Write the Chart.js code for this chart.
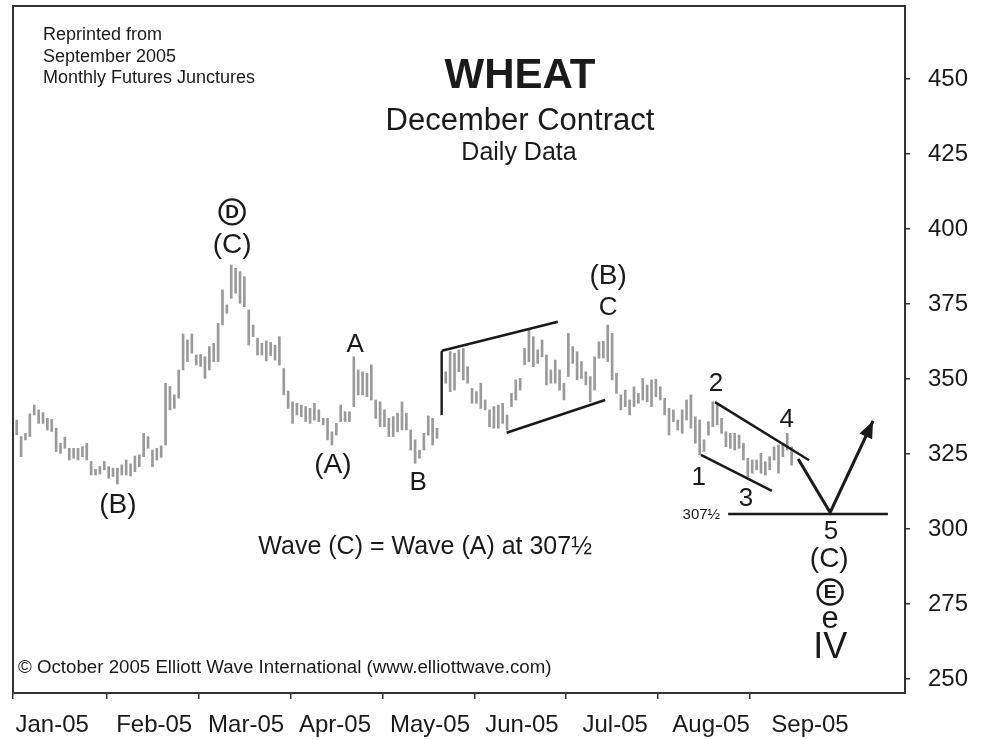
<!DOCTYPE html>
<html>
<head>
<meta charset="utf-8">
<title>Wheat - December Contract</title>
<script src="https://cdn.jsdelivr.net/npm/chart.js@4.4.1/dist/chart.umd.min.js"></script>
<style>
  html, body { margin: 0; padding: 0; background: #fff; }
  #wrap { width: 987px; height: 740px; }
</style>
</head>
<body>
<div id="wrap"><canvas id="chart" width="987" height="740"></canvas></div>
<script>
// ===== Data (daily bars, index = trading day from 3 Jan 2005) =====
const months      = ['Jan-05', 'Feb-05', 'Mar-05', 'Apr-05', 'May-05', 'Jun-05', 'Jul-05', 'Aug-05', 'Sep-05'];
const monthStarts = [-0.85, 20.6, 41.6, 62.7, 83.7, 104.7, 125.5, 146.5, 167.5];
const monthLabelAt = [8.1, 31.4, 52.4, 72.7, 94.4, 115.4, 136.7, 158.6, 181.2];
const priceTicks  = [250, 275, 300, 325, 350, 375, 400, 425, 450];

const highs = [
  336.3, 330.8, 331.9, 338.4, 341.3, 339.7, 338.8, 336.9, 336.6, 333.6,
  328.6, 330.6, 326.9, 326.9, 326.9, 327.4, 328.6, 322.5, 319.9, 320.8,
  322.5, 320.8, 320.3, 320.3, 321.4, 323.0, 321.7, 324.3, 324.7, 331.9,
  330.8, 326.3, 326.9, 327.7, 348.6, 347.5, 344.7, 353.0, 365.0, 363.0,
  365.0, 358.0, 358.2, 357.4, 360.8, 361.9, 368.6, 379.7, 374.7, 388.0,
  386.9, 385.8, 384.1, 373.0, 368.0, 363.6, 361.9, 362.7, 362.2, 361.3,
  364.1, 353.5, 346.0, 342.4, 341.9, 341.3, 340.8, 340.2, 341.9, 339.7,
  336.9, 336.9, 332.4, 335.2, 341.3, 339.1, 339.1, 357.4, 353.0, 352.4,
  351.9, 354.7, 343.0, 342.4, 339.7, 336.9, 337.5, 338.6, 342.4, 338.6,
  333.0, 329.7, 326.3, 331.9, 337.7, 336.9, 333.6, 359.1, 352.4, 359.1,
  358.6, 359.7, 360.2, 354.1, 346.9, 345.8, 348.6, 343.0, 339.7, 340.8,
  341.3, 341.9, 338.0, 345.2, 349.7, 350.2, 360.2, 366.3, 364.1, 359.7,
  363.0, 358.0, 353.0, 356.3, 353.0, 348.6, 365.2, 360.8, 359.1, 355.8,
  352.4, 350.8, 357.4, 362.4, 362.6, 368.0, 365.2, 351.9, 344.7, 346.3,
  343.0, 347.4, 345.2, 350.2, 348.0, 349.7, 349.9, 347.4, 343.6, 340.2,
  339.7, 336.3, 339.7, 343.0, 344.7, 337.4, 336.3, 329.7, 335.8, 342.4,
  341.3, 336.9, 332.4, 331.9, 331.9, 331.3, 328.6, 323.6, 323.0, 323.0,
  325.2, 322.4, 324.1, 327.4, 328.0, 328.6, 331.9, 327.4
];
const lows = [
  331.4, 324.1, 329.7, 330.8, 338.0, 335.2, 335.2, 333.0, 332.5, 325.8,
  325.2, 326.9, 323.0, 323.6, 323.0, 324.1, 323.0, 318.0, 318.0, 318.3,
  319.7, 316.9, 317.5, 315.0, 318.0, 318.0, 317.7, 319.1, 320.8, 324.1,
  326.9, 320.8, 323.0, 323.9, 328.0, 339.7, 340.2, 343.6, 353.0, 355.8,
  358.6, 354.7, 354.2, 350.2, 353.0, 355.8, 355.8, 368.0, 371.9, 376.9,
  378.6, 375.2, 374.1, 361.3, 364.1, 358.0, 358.0, 356.0, 357.8, 356.3,
  354.6, 344.7, 340.2, 335.2, 338.0, 337.4, 335.8, 335.2, 336.3, 335.8,
  334.7, 329.7, 328.0, 331.3, 335.8, 335.8, 335.8, 340.8, 344.7, 344.7,
  344.1, 343.0, 336.9, 334.1, 334.1, 330.8, 330.8, 332.4, 333.0, 333.0,
  326.3, 321.9, 323.6, 326.3, 331.3, 328.0, 330.2, 338.0, 348.6, 345.8,
  346.3, 352.4, 349.7, 348.6, 341.9, 341.9, 340.2, 339.7, 334.1, 333.6,
  333.6, 335.2, 333.0, 340.8, 343.0, 346.3, 354.7, 355.8, 354.1, 355.2,
  357.4, 348.0, 348.6, 348.6, 346.3, 343.0, 350.8, 355.2, 349.7, 350.2,
  348.0, 342.4, 346.3, 356.9, 357.0, 355.8, 349.7, 345.2, 339.7, 340.8,
  338.0, 340.8, 341.9, 343.0, 342.4, 340.8, 344.1, 343.0, 338.0, 331.3,
  335.8, 333.0, 331.9, 336.3, 333.6, 328.6, 324.7, 325.8, 331.3, 334.1,
  334.7, 331.9, 327.4, 326.9, 326.3, 326.9, 323.0, 317.4, 318.6, 319.7,
  318.6, 318.0, 319.7, 323.0, 318.6, 324.1, 326.3, 321.3
];

// wave-count drawing (in bar index / price units)
const channelTop    = [[97.1, 359.4], [123.6, 369.1]];
const channelSide   = [[97.1, 338.0], [97.1, 359.4]];
const channelBottom = [[111.9, 332.1], [134.4, 343.0]];
const wedgeTop      = [[159.5, 342.3], [181.0, 322.9]];
const wedgeBottom   = [[156.3, 324.7], [172.5, 312.7]];
const projection    = [[178.5, 323.3], [185.8, 305.5], [195.6, 336.0]];
const targetLine    = [[162.5, 305.0], [199.0, 305.0]];

const waveLabels = [
  { t: '(B)', x: 23.1,  y: 308.0, size: 28 },
  { t: '(C)', x: 49.2,  y: 394.7, size: 28 },
  { t: 'A',   x: 77.3,  y: 361.3, size: 26 },
  { t: '(A)', x: 72.2,  y: 321.3, size: 28 },
  { t: 'B',   x: 91.7,  y: 315.3, size: 26 },
  { t: '(B)', x: 135.1, y: 384.3, size: 28 },
  { t: 'C',   x: 135.1, y: 373.7, size: 26 },
  { t: '2',   x: 159.7, y: 348.3, size: 26 },
  { t: '4',   x: 175.9, y: 336.3, size: 26 },
  { t: '1',   x: 155.8, y: 317.0, size: 26 },
  { t: '3',   x: 166.6, y: 310.0, size: 26 },
  { t: '5',   x: 186.0, y: 299.0, size: 26 },
  { t: '(C)', x: 185.6, y: 290.0, size: 28 },
  { t: 'e',   x: 185.8, y: 269.8, size: 31 },
  { t: 'IV',  x: 185.8, y: 260.4, size: 36 }
];
const circled = [
  { t: 'D', x: 49.2,  y: 405.7 },
  { t: 'E', x: 185.8, y: 279.0 }
];

const FONT  = '"Liberation Sans", Arial, Helvetica, sans-serif';
const INK   = '#1a1a1a';
const X_MIN = -0.85, X_MAX = 202.9;
const Y_MIN = 245.33, Y_MAX = 474.33;

// ===== Helpers =====
const isStart  = v => monthStarts.some(s => Math.abs(s - v) < 1e-6);
const pts      = arr => arr.map(([x, y]) => ({ x, y }));
const lineSet  = (arr, w) => ({
  type: 'line', data: pts(arr), borderColor: INK, borderWidth: w || 2.5,
  pointRadius: 0, fill: false, tension: 0, order: 1
});
const noPad = s => { s.paddingTop = 0; s.paddingBottom = 0; s.paddingLeft = 0; s.paddingRight = 0; };

// ===== Plugin: frame, headings, wave labels =====
const decor = {
  id: 'decor',
  afterDatasetsDraw(chart) {
    const { ctx, chartArea: a, scales: { x, y } } = chart;
    ctx.save();
    ctx.fillStyle = INK;
    ctx.textAlign = 'center';
    ctx.textBaseline = 'middle';

    waveLabels.forEach(l => {
      ctx.font = `${l.size}px ${FONT}`;
      ctx.fillText(l.t, x.getPixelForValue(l.x), y.getPixelForValue(l.y));
    });

    circled.forEach(c => {
      const px = x.getPixelForValue(c.x), py = y.getPixelForValue(c.y);
      ctx.beginPath();
      ctx.lineWidth = 2.4;
      ctx.strokeStyle = INK;
      ctx.arc(px, py, 12.5, 0, Math.PI * 2);
      ctx.stroke();
      ctx.font = `bold 19px ${FONT}`;
      ctx.fillText(c.t, px, py + 1);
    });

    // arrow head on projection
    const [p0, p1] = projection.slice(-2).map(([vx, vy]) => [x.getPixelForValue(vx), y.getPixelForValue(vy)]);
    const ang = Math.atan2(p1[1] - p0[1], p1[0] - p0[0]);
    ctx.beginPath();
    ctx.moveTo(p1[0], p1[1]);
    ctx.lineTo(p1[0] - 17 * Math.cos(ang) + 7 * Math.sin(ang), p1[1] - 17 * Math.sin(ang) - 7 * Math.cos(ang));
    ctx.lineTo(p1[0] - 17 * Math.cos(ang) - 7 * Math.sin(ang), p1[1] - 17 * Math.sin(ang) + 7 * Math.cos(ang));
    ctx.closePath();
    ctx.fill();

    // target value label
    ctx.font = `15px ${FONT}`;
    ctx.textAlign = 'right';
    ctx.fillText('307½', x.getPixelForValue(targetLine[0][0]) - 8, y.getPixelForValue(targetLine[0][1]) + 1);

    ctx.textAlign = 'center';
    ctx.font = `25px ${FONT}`;
    ctx.fillText('Wave (C) = Wave (A) at 307½', x.getPixelForValue(93.3), y.getPixelForValue(294));

    // headings
    ctx.font = `bold 42px ${FONT}`;
    ctx.fillText('WHEAT', 520, 76);
    ctx.font = `31px ${FONT}`;
    ctx.fillText('December Contract', 520, 121);
    ctx.font = `25px ${FONT}`;
    ctx.fillText('Daily Data', 519, 153);

    ctx.textAlign = 'left';
    ctx.font = `18px ${FONT}`;
    ctx.fillText('Reprinted from', 43, 35);
    ctx.fillText('September 2005', 43, 57);
    ctx.fillText('Monthly Futures Junctures', 43, 78);
    ctx.font = `18.7px ${FONT}`;
    ctx.fillText('© October 2005 Elliott Wave International (www.elliottwave.com)', 18, 668);

    // frame
    ctx.lineWidth = 2;
    ctx.strokeStyle = '#333';
    ctx.strokeRect(a.left, a.top, a.right - a.left, a.bottom - a.top);
    ctx.restore();
  }
};

// ===== Chart =====
new Chart(document.getElementById('chart'), {
  type: 'bar',
  data: {
    datasets: [
      {
        type: 'bar',
        data: highs.map((h, i) => ({ x: i, y: [lows[i], h] })),
        backgroundColor: '#9a9a9a',
        borderWidth: 0,
        barThickness: 2,
        grouped: false,
        order: 2
      },
      lineSet(channelTop), lineSet(channelSide, 2), lineSet(channelBottom),
      lineSet(wedgeTop), lineSet(wedgeBottom),
      lineSet(projection, 3), lineSet(targetLine)
    ]
  },
  options: {
    responsive: false,
    animation: false,
    layout: { padding: { left: 13, top: 6, right: 0, bottom: 0 } },
    plugins: { legend: { display: false }, tooltip: { enabled: false } },
    scales: {
      x: {
        type: 'linear', position: 'bottom', min: X_MIN, max: X_MAX,
        offset: false,
        afterBuildTicks: s => {
          s.ticks = [...monthStarts, ...monthLabelAt].sort((a, b) => a - b).map(value => ({ value }));
        },
        afterFit: s => { s.height = 47; noPad(s); },
        border: { display: false },
        grid: {
          offset: false, drawOnChartArea: false, drawTicks: true, tickLength: 6, lineWidth: 1.5,
          color: c => (c.tick && isStart(c.tick.value)) ? '#333' : 'rgba(0,0,0,0)'
        },
        ticks: {
          autoSkip: false, maxRotation: 0, minRotation: 0, padding: 12,
          color: INK, font: { family: FONT, size: 24 },
          callback: v => {
            const i = monthLabelAt.findIndex(p => Math.abs(p - v) < 1e-6);
            return i >= 0 ? months[i] : '';
          }
        }
      },
      y: {
        type: 'linear', position: 'right', min: Y_MIN, max: Y_MAX,
        afterBuildTicks: s => { s.ticks = priceTicks.map(value => ({ value })); },
        afterFit: s => { s.width = 82; noPad(s); },
        border: { display: false },
        grid: { drawOnChartArea: false, drawTicks: true, tickLength: 5, lineWidth: 1.5, color: '#333' },
        ticks: { padding: 18, color: INK, font: { family: FONT, size: 24 } }
      }
    }
  },
  plugins: [decor]
});
</script>
</body>
</html>
